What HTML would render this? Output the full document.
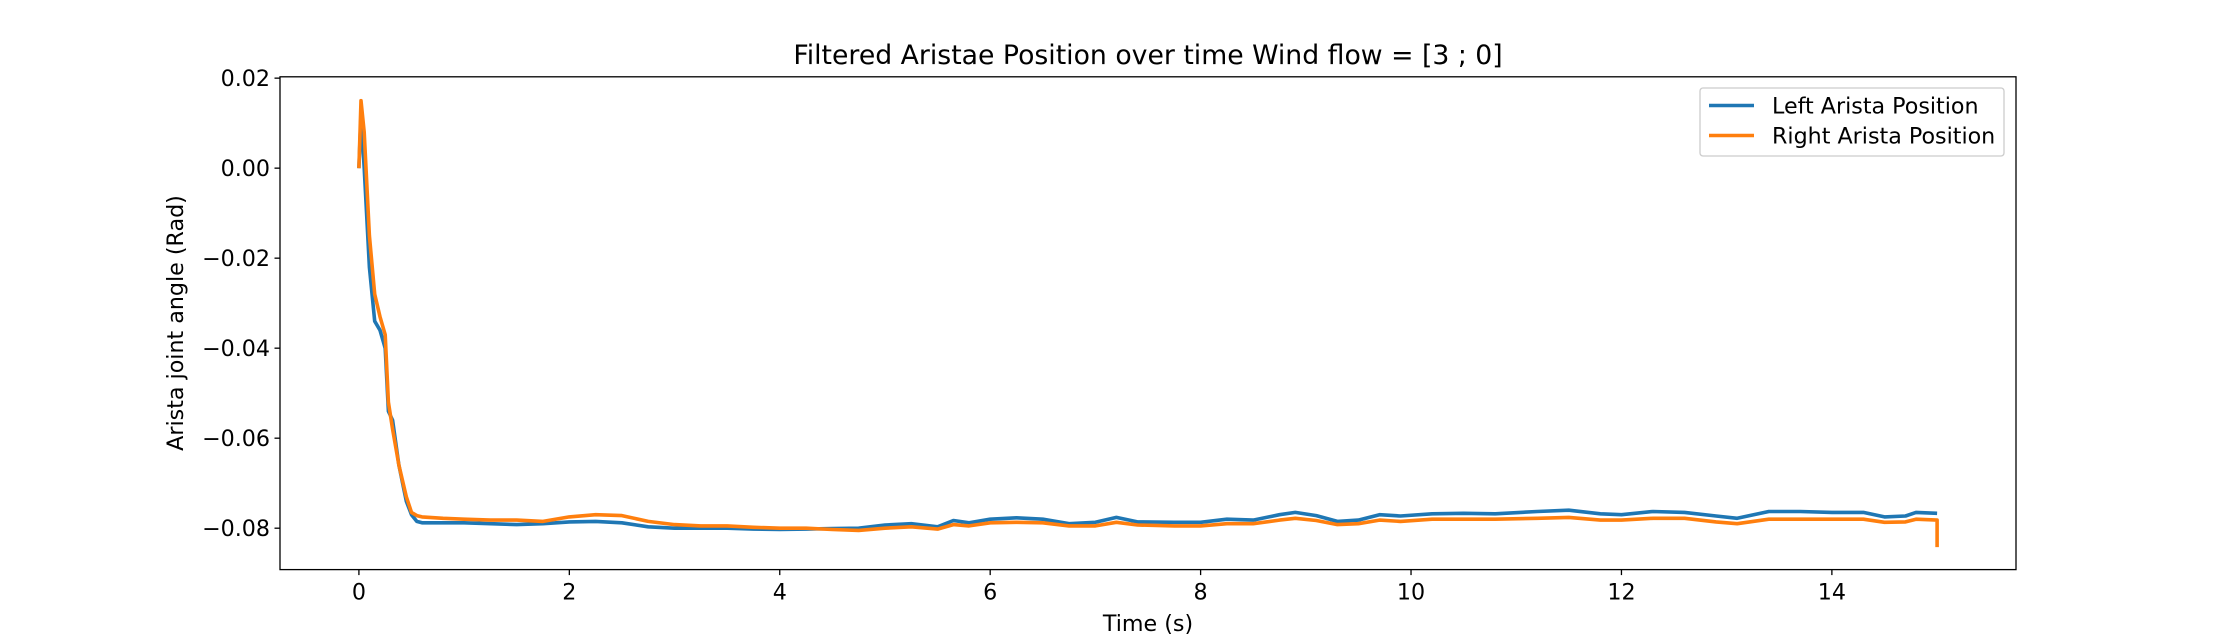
<!DOCTYPE html>
<html><head><meta charset="utf-8"><style>
body{margin:0;background:#fff}
svg{display:block;font-family:"DejaVu Sans","Liberation Sans",sans-serif}
</style></head><body>
<svg id="chart" width="2240" height="640" viewBox="0 0 2240 640">
<rect width="2240" height="640" fill="#fff"/>
<text x="1148" y="64" font-size="26.7" text-anchor="middle">Filtered Aristae Position over time Wind flow = [3 ; 0]</text>
<g id="plot"></g>
<text x="1148" y="631" font-size="22.2" text-anchor="middle">Time (s)</text>
<text x="0" y="0" font-size="22.2" text-anchor="middle" transform="translate(183,323) rotate(-90)">Arista joint angle (Rad)</text>
</svg>
<script>
const times=[0,0.02,0.05,0.1,0.15,0.2,0.25,0.28,0.32,0.38,0.45,0.5,0.55,0.6,0.8,1.0,1.25,1.5,1.75,2.0,2.25,2.5,2.75,3.0,3.25,3.5,3.75,4.0,4.25,4.5,4.75,5.0,5.25,5.5,5.65,5.8,6.0,6.25,6.5,6.75,7.0,7.2,7.4,7.75,8.0,8.25,8.5,8.75,8.9,9.1,9.3,9.5,9.7,9.9,10.2,10.5,10.8,11.2,11.5,11.8,12.0,12.3,12.6,12.9,13.1,13.4,13.7,14.0,14.3,14.5,14.7,14.8,15.0,15.0];
const leftPos=[0,0.012,0,-0.022,-0.034,-0.036,-0.040,-0.054,-0.056,-0.066,-0.074,-0.077,-0.0785,-0.0788,-0.0788,-0.0788,-0.0790,-0.0792,-0.0790,-0.0786,-0.0785,-0.0788,-0.0797,-0.0800,-0.0800,-0.0800,-0.0802,-0.0803,-0.0802,-0.0801,-0.0800,-0.0793,-0.0790,-0.0797,-0.0783,-0.0788,-0.0780,-0.0777,-0.0780,-0.0790,-0.0787,-0.0776,-0.0786,-0.0787,-0.0787,-0.0780,-0.0782,-0.0770,-0.0765,-0.0772,-0.0785,-0.0782,-0.0770,-0.0773,-0.0768,-0.0767,-0.0768,-0.0763,-0.0760,-0.0768,-0.0770,-0.0763,-0.0765,-0.0773,-0.0778,-0.0763,-0.0763,-0.0765,-0.0765,-0.0775,-0.0773,-0.0765,-0.0767,-0.0767];
const rightPos=[0,0.015,0.008,-0.015,-0.028,-0.033,-0.037,-0.052,-0.058,-0.066,-0.073,-0.0765,-0.0772,-0.0775,-0.0778,-0.0780,-0.0782,-0.0782,-0.0785,-0.0775,-0.0770,-0.0772,-0.0785,-0.0792,-0.0795,-0.0795,-0.0798,-0.0800,-0.0800,-0.0803,-0.0805,-0.0800,-0.0797,-0.0802,-0.0792,-0.0795,-0.0788,-0.0787,-0.0788,-0.0795,-0.0795,-0.0787,-0.0793,-0.0795,-0.0795,-0.0790,-0.0790,-0.0782,-0.0778,-0.0783,-0.0792,-0.0790,-0.0782,-0.0785,-0.0780,-0.0780,-0.0780,-0.0778,-0.0776,-0.0782,-0.0782,-0.0778,-0.0778,-0.0786,-0.0790,-0.0780,-0.0780,-0.0780,-0.0780,-0.0787,-0.0786,-0.0780,-0.0782,-0.0842];
const xTicks=[0,2,4,6,8,10,12,14];
const yTicks=[0.02,0,-0.02,-0.04,-0.06,-0.08];
const yTickLabels=["0.02","0.00","\u22120.02","\u22120.04","\u22120.06","\u22120.08"];
const seriesNames=["Left Arista Position","Right Arista Position"];

const X0=280,X1=2016,Y0=76.8,Y1=569.6;
const xMin=-0.75,xMax=15.75,yMin=-0.0892,yMax=0.0203;
const sx=v=>X0+(v-xMin)/(xMax-xMin)*(X1-X0);
const sy=v=>Y1-(v-yMin)/(yMax-yMin)*(Y1-Y0);
const NS="http://www.w3.org/2000/svg";
const g=document.getElementById('plot');
function mk(t,a){const e=document.createElementNS(NS,t);for(const k in a)e.setAttribute(k,a[k]);return e;}

function addLine(vals,color,name){
  const d=vals.map((v,i)=>(i?'L':'M')+sx(times[i]).toFixed(1)+','+sy(v).toFixed(1)).join('');
  const p=mk('path',{d:d,fill:'none',stroke:color,'stroke-width':3.6,'stroke-linejoin':'round'});
  
  
  g.appendChild(p);
}
addLine(leftPos,'#1f77b4','left-arista-line');
addLine(rightPos,'#ff7f0e','right-arista-line');

xTicks.forEach(v=>{
  const x=sx(v);
  const t=mk('line',{x1:x,x2:x,y1:Y1,y2:Y1+5.5,stroke:'#000','stroke-width':1.3});
  
  
  g.appendChild(t);
  const l=mk('text',{x:x,y:Y1+30,'font-size':22.2,'text-anchor':'middle'});
  l.textContent=String(v);
  
  
  g.appendChild(l);
});
yTicks.forEach((v,i)=>{
  const y=sy(v);
  const t=mk('line',{x1:X0-5.5,x2:X0,y1:y,y2:y,stroke:'#000','stroke-width':1.3});
  
  
  g.appendChild(t);
  const l=mk('text',{x:X0-10,y:y+8,'font-size':22.2,'text-anchor':'end'});
  l.textContent=yTickLabels[i];
  
  
  g.appendChild(l);
});
const frame=mk('rect',{x:X0,y:Y0,width:X1-X0,height:Y1-Y0,fill:'none',stroke:'#000','stroke-width':1.3});


g.appendChild(frame);

const lg=mk('g',{});


g.appendChild(lg);
const box=mk('rect',{x:1700,y:88,width:304,height:68,rx:3,fill:'#fff','fill-opacity':0.8,stroke:'#ccc','stroke-width':1.3});


lg.appendChild(box);
['#1f77b4','#ff7f0e'].forEach((c,i)=>{
  const y=105.5+i*30;
  const ln=mk('line',{x1:1709,x2:1754,y1:y,y2:y,stroke:c,'stroke-width':3.6});
  
  
  lg.appendChild(ln);
  const tx=mk('text',{x:1772,y:y+8,'font-size':22.2});
  tx.textContent=seriesNames[i];
  
  
  lg.appendChild(tx);
});
</script>
</body></html>
